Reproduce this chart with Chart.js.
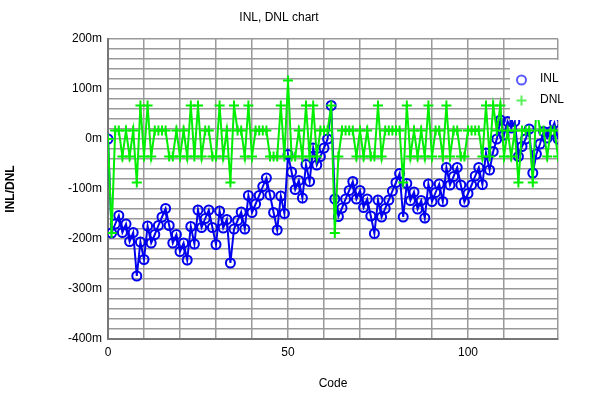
<!DOCTYPE html>
<html><head><meta charset="utf-8">
<script src="https://cdn.jsdelivr.net/npm/chart.js@4.4.1/dist/chart.umd.min.js"></script>
<style>html,body{margin:0;padding:0;background:#fff;}#wrap{width:600px;height:400px;position:relative;}</style>
</head><body><div id="wrap"><canvas id="c" width="600" height="400"></canvas></div>
<script>
const codes = [0,1,2,3,4,5,6,7,8,9,10,11,12,13,14,15,16,17,18,19,20,21,22,23,24,25,26,27,28,29,30,31,32,33,34,35,36,37,38,39,40,41,42,43,44,45,46,47,48,49,50,51,52,53,54,55,56,57,58,59,60,61,62,63,64,65,66,67,68,69,70,71,72,73,74,75,76,77,78,79,80,81,82,83,84,85,86,87,88,89,90,91,92,93,94,95,96,97,98,99,100,101,102,103,104,105,106,107,108,109,110,111,112,113,114,115,116,117,118,119,120,121,122,123,124,125];
const inlValues = [
  0,-188,-170,-153,-187,-170,-205,-187,-274,-206,
  -241,-174,-208,-191,-173,-156,-139,-173,-208,-191,
  -225,-208,-242,-175,-210,-142,-177,-159,-142,-177,
  -211,-144,-178,-161,-248,-180,-163,-146,-180,-113,
  -147,-130,-113,-95,-78,-112,-147,-182,-114,-149,
  -31,-66,-101,-83,-118,-51,-85,-18,-52,-35,
  -18,0,67,-120,-155,-138,-120,-103,-85,-120,
  -103,-137,-120,-154,-189,-122,-156,-139,-122,-104,
  -87,-69,-156,-89,-123,-106,-140,-123,-158,-90,
  -125,-107,-90,-125,-57,-92,-75,-57,-92,-126,
  -109,-92,-74,-57,-91,-28,-62,-25,0,38,
  8,35,22,35,-35,-15,0,20,-68,-30,
  -10,15,2,15,32,0];
const dnlValues = [
  0,-188,17,17,-35,17,-35,17,-87,67,
  -35,67,-35,17,17,17,17,-35,-35,17,
  -35,17,-35,67,-35,67,-35,17,17,-35,
  -35,67,-35,17,-87,67,17,17,-35,67,
  -35,17,17,17,17,-35,-35,-35,67,-35,
  117,-35,-35,17,-35,67,-35,67,-35,17,
  17,17,67,-188,-35,17,17,17,17,-35,
  17,-35,17,-35,-35,67,-35,17,17,17,
  17,17,-87,67,-35,17,-35,17,-35,67,
  -35,17,17,-35,67,-35,17,17,-35,-35,
  17,17,17,17,-35,67,-35,67,17,67,
  -35,17,-35,17,-87,17,17,17,-87,67,
  17,17,-35,17,17,-35];
const yLabelSteps = [200,100,0,-100,-200,-300,-400];
const xLabelSteps = [0,50,100];

const FONT = "'Liberation Sans', Arial, Helvetica, sans-serif";
const INL_COLOR = '#0000ee';
const DNL_COLOR = '#00ee00';

const boxLegend = {
  id: 'boxLegend',
  afterDraw(chart) {
    const ctx = chart.ctx;
    ctx.save();
    ctx.fillStyle = '#ffffff';
    ctx.fillRect(510, 60, 90, 60);
    ctx.lineWidth = 2;
    ctx.strokeStyle = '#5a5aff';
    ctx.beginPath(); ctx.arc(521.5, 80, 4.5, 0, Math.PI * 2); ctx.stroke();
    ctx.strokeStyle = '#5af05a';
    ctx.beginPath(); ctx.moveTo(516.5, 100.5); ctx.lineTo(526.5, 100.5); ctx.moveTo(521.5, 95.5); ctx.lineTo(521.5, 105.5); ctx.stroke();
    ctx.fillStyle = '#000';
    ctx.font = '12px ' + FONT;
    ctx.textBaseline = 'middle';
    ctx.fillText('INL', 540, 79);
    ctx.fillText('DNL', 540, 100);
    ctx.restore();
  }
};

new Chart(document.getElementById('c'), {
  type: 'line',
  data: {
    datasets: [
      { label: 'DNL', data: codes.map((c, i) => ({x: c, y: dnlValues[i]})), borderColor: DNL_COLOR, backgroundColor: DNL_COLOR,
        borderWidth: 2, pointStyle: 'cross', pointRadius: 5, pointBorderWidth: 2, pointBorderColor: DNL_COLOR, tension: 0, order: 1 },
      { label: 'INL', data: codes.map((c, i) => ({x: c, y: inlValues[i]})), borderColor: INL_COLOR, backgroundColor: 'rgba(0,0,0,0)',
        borderWidth: 2, pointStyle: 'circle', pointRadius: 4.5, pointBorderWidth: 2, pointBorderColor: INL_COLOR, tension: 0, order: 2 }
    ]
  },
  options: {
    responsive: false, animation: false, devicePixelRatio: 1,
    layout: { padding: { left: 0, right: 42, top: 0, bottom: 0 } },
    plugins: {
      legend: { display: false },
      tooltip: { enabled: false },
      title: { display: true, text: 'INL, DNL chart', color: '#000', font: { family: FONT, size: 12, weight: 'normal' }, padding: { top: 10, bottom: 14.6 } }
    },
    scales: {
      x: {
        type: 'linear', min: 0, max: 125,
        afterFit: s => { s.height = 61; },
        grid: { color: '#999', lineWidth: 1.5, drawTicks: false },
        border: { display: true, color: '#777', width: 2 },
        ticks: { stepSize: 10, padding: 6, color: '#000', font: { family: FONT, size: 12 }, maxRotation: 0, autoSkip: false,
          callback: v => xLabelSteps.includes(v) ? String(v) : '' },
        title: { display: true, text: 'Code', color: '#000', font: { family: FONT, size: 12 }, padding: { top: 4, bottom: 9 } }
      },
      y: {
        min: -400, max: 200,
        afterFit: s => { s.width = 108; },
        grid: { color: '#999', lineWidth: 1.5, drawTicks: false },
        border: { display: true, color: '#777', width: 2 },
        ticks: { stepSize: 20, padding: 6, color: '#000', font: { family: FONT, size: 12 }, autoSkip: false,
          callback: v => yLabelSteps.includes(v) ? v + 'm' : '' },
        title: { display: true, text: 'INL/DNL', color: '#000', font: { family: FONT, size: 12, weight: 'bold' }, padding: { top: 3, bottom: 4 } }
      }
    }
  },
  plugins: [boxLegend]
});
</script></body></html>
